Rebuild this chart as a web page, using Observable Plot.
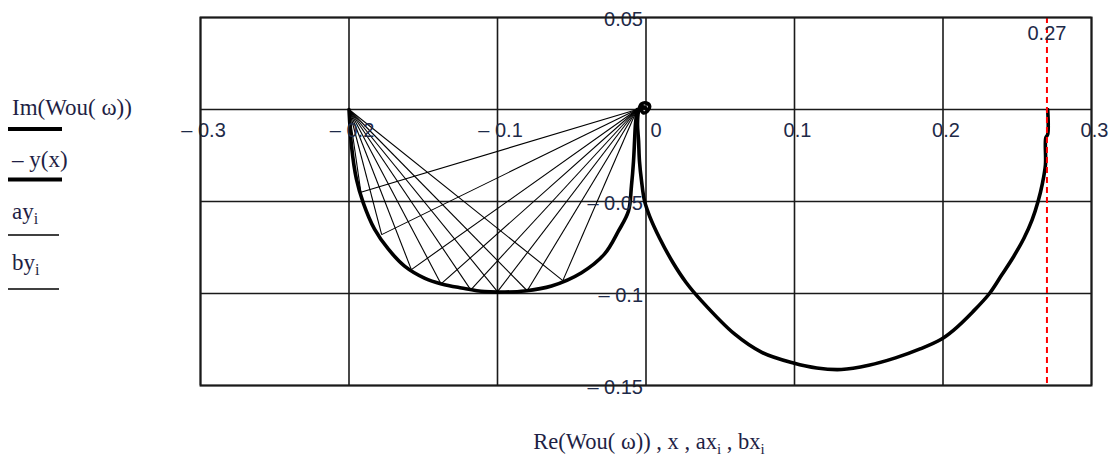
<!DOCTYPE html>
<html>
<head>
<meta charset="utf-8">
<script src="https://cdn.jsdelivr.net/npm/d3@7"></script>
<script src="https://cdn.jsdelivr.net/npm/@observablehq/plot@0.6"></script>
<style>
  html, body { margin: 0; padding: 0; background: #fff; }
  #chart { width: 1117px; height: 463px; }
</style>
</head>
<body>
<div id="chart"></div>
<script>
// Grid / tick values
const xTicks = [-0.3, -0.2, -0.1, 0, 0.1, 0.2, 0.3];
const yTicks = [0.05, 0, -0.05, -0.1, -0.15];
const yLabelTicks = [0.05, -0.05, -0.1, -0.15];
const markerX = [0.27];

// Nyquist hodograph Wou(ω): real and imaginary parts
const wouRe = [0.2705, 0.2705, 0.2692, 0.2690, 0.2670, 0.2640, 0.2600, 0.2545, 0.2475, 0.2395, 0.2313,
  0.2200, 0.2070, 0.1985, 0.1850, 0.1680, 0.1500, 0.1316, 0.1150, 0.0993, 0.0780, 0.0596, 0.0374,
  0.0270, 0.0180, 0.0091, 0.0024, -0.0010, -0.0030, -0.0044, -0.0050, -0.0057, -0.0050, -0.0030,
  0.0003, 0.0024, 0.0010, -0.0017, -0.0030, -0.0017, -0.0003];
const wouIm = [0.0, -0.0135, -0.0155, -0.0300, -0.0400, -0.0500, -0.0600, -0.0700, -0.0800, -0.0900, -0.1000,
  -0.1100, -0.1200, -0.1250, -0.1300, -0.1350, -0.1390, -0.1413, -0.1405, -0.1378, -0.1320, -0.1220, -0.1040,
  -0.0940, -0.0830, -0.0698, -0.0579, -0.0497, -0.0389, -0.0280, -0.0171, -0.0079, -0.0008, 0.0030,
  0.0035, 0.0019, -0.0008, -0.0019, -0.0003, 0.0014, 0.0008];

// Circle -y(x)
const circX = [-0.2000, -0.1983, -0.1950, -0.1904, -0.1828, -0.1736, -0.1626, -0.1492, -0.1377, -0.1242,
  -0.1087, -0.0950, -0.0818, -0.0636, -0.0434, -0.0279, -0.0185, -0.0118, -0.0098, -0.0084, -0.0077, -0.0071, -0.0060];
const circY = [0.0, -0.0198, -0.0378, -0.0507, -0.0650, -0.0758, -0.0851, -0.0916, -0.0948, -0.0970,
  -0.0990, -0.0992, -0.0986, -0.0959, -0.0887, -0.0785, -0.0660, -0.0552, -0.0416, -0.0280, -0.0171, -0.0079, 0.0];

// Chord end points on the circle (ax_i, ay_i / bx_i, by_i)
const fanX = [-0.192, -0.178, -0.158, -0.138, -0.118, -0.100, -0.080, -0.056];
const fanY = [-0.045, -0.068, -0.087, -0.0948, -0.098, -0.099, -0.0985, -0.093];
const vertexA = [-0.2, 0];
const vertexB = [-0.006, 0];

// Legend entries
const legendText = ["Im(Wou( ω))", "– y(x)", "ay", "by"];
const legendSub = ["", "", "i", "i"];

const wou = wouRe.map((re, i) => ({re, im: wouIm[i]}));
const circle = circX.map((x, i) => ({x, y: circY[i]}));
const chords = [];
fanX.forEach((x, i) => {
  chords.push({x1: vertexA[0], y1: vertexA[1], x2: x, y2: fanY[i]});
  chords.push({x1: vertexB[0], y1: vertexB[1], x2: x, y2: fanY[i]});
});

const fmt = v => v < 0 ? "– " + String(-v) : String(v);
const tickColor = "#1e2a48";
const gridColor = "#1a1a1a";

const plot = Plot.plot({
  width: 1117,
  height: 463,
  marginLeft: 200,
  marginRight: 26,
  marginTop: 17,
  marginBottom: 78,
  x: {domain: [-0.3, 0.3], axis: null},
  y: {domain: [-0.15, 0.05], axis: null},
  style: {fontFamily: "'Liberation Sans', Arial, sans-serif", background: "#fff", overflow: "visible"},
  marks: [
    Plot.ruleX(xTicks, {stroke: gridColor, strokeWidth: 1.6}),
    Plot.ruleY(yTicks, {stroke: gridColor, strokeWidth: 1.6}),
    Plot.link(chords, {x1: "x1", y1: "y1", x2: "x2", y2: "y2", stroke: "#000", strokeWidth: 1.1}),
    Plot.line(circle, {x: "x", y: "y", stroke: "#000", strokeWidth: 3.6, curve: "catmull-rom"}),
    Plot.line(wou, {x: "re", y: "im", stroke: "#000", strokeWidth: 3.6, curve: "catmull-rom"}),
    Plot.ruleX(markerX, {stroke: "#ff0000", strokeWidth: 2, strokeDasharray: "6,4"}),
    Plot.text(markerX, {x: d => d, frameAnchor: "top", lineAnchor: "middle", dy: 16, text: d => String(d), fontSize: 20, fill: tickColor}),
    Plot.text(xTicks.filter(d => d !== 0), {x: d => d, y: 0, dy: 21, dx: 3, text: fmt, fontSize: 20, fill: tickColor}),
    Plot.text(xTicks.filter(d => d === 0), {x: d => d, y: 0, dy: 21, dx: 10, text: fmt, fontSize: 20, fill: tickColor}),
    Plot.text(yLabelTicks, {x: 0, y: d => d, textAnchor: "end", dx: -3, dy: 2, text: fmt, fontSize: 20, fill: tickColor}),
    Plot.frame({stroke: gridColor, strokeWidth: 2})
  ]
});

document.getElementById("chart").append(plot);

// Legend at the left and axis title below, drawn into the same SVG
const svg = d3.select(plot);
const serif = "'Liberation Serif', 'Times New Roman', serif";
const textColor = "#1f1f45";
const legendBaseline = [115, 167, 219, 270];
const legendLineY = [129, 179.5, 235, 289];
const legendLineW = [4, 4, 1.5, 1.5];
const legendLineEnd = [62, 62, 59, 59];

legendText.forEach((t, i) => {
  const txt = svg.append("text")
    .attr("x", 12).attr("y", legendBaseline[i]).attr("text-anchor", "start")
    .attr("font-family", serif).attr("font-size", 23).attr("fill", textColor);
  txt.append("tspan").text(t);
  if (legendSub[i]) {
    txt.append("tspan").attr("dy", 5).attr("font-size", 16).text(legendSub[i]);
  }
  svg.append("line")
    .attr("x1", 8).attr("x2", legendLineEnd[i])
    .attr("y1", legendLineY[i]).attr("y2", legendLineY[i])
    .attr("stroke", "#000").attr("stroke-width", legendLineW[i]);
});

const title = svg.append("text")
  .attr("x", 649).attr("y", 449).attr("text-anchor", "middle")
  .attr("font-family", serif).attr("font-size", 22.5).attr("fill", textColor);
title.append("tspan").text("Re(Wou( ω)) , x , ax");
title.append("tspan").attr("dy", 5).attr("font-size", 15).text("i");
title.append("tspan").attr("dy", -5).text(" , bx");
title.append("tspan").attr("dy", 5).attr("font-size", 15).text("i");
</script>
</body>
</html>
